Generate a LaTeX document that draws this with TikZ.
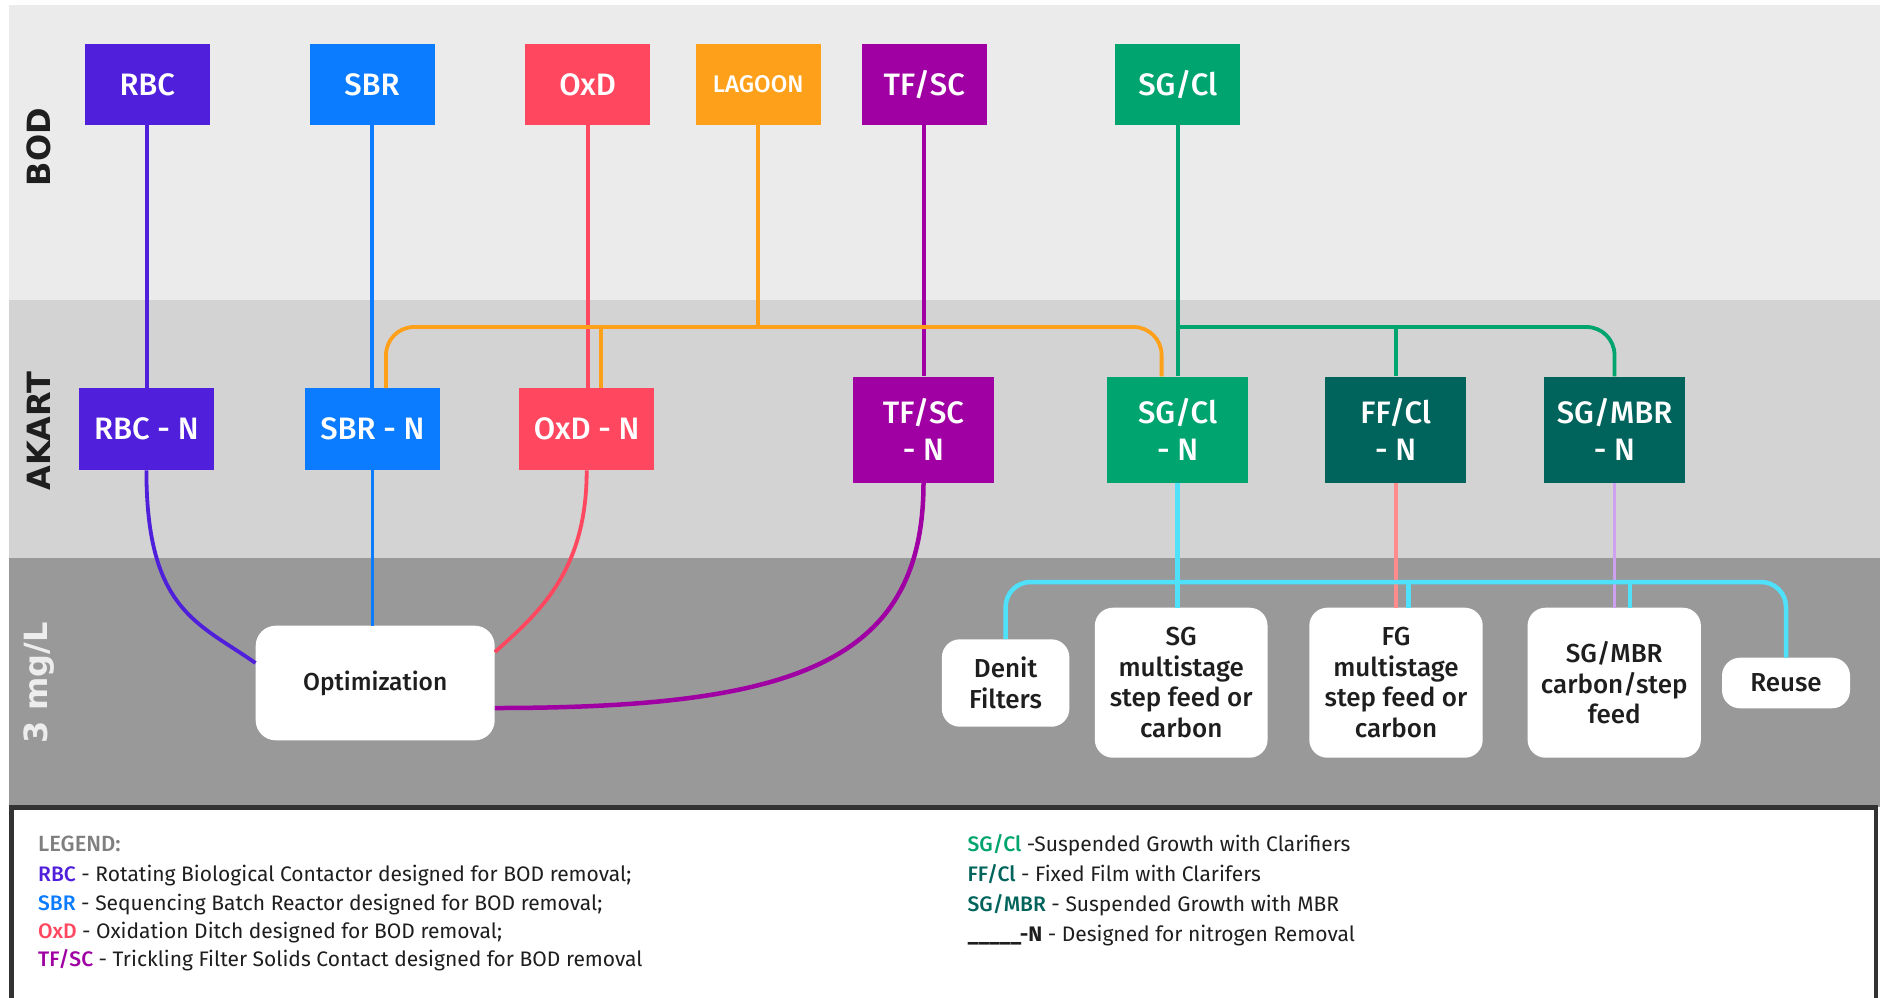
\documentclass[tikz,border=0pt]{standalone}
\usepackage{fontspec}
\setmainfont{Fira Sans}
\newfontfamily\medfont{Fira Sans}[UprightFont=* Medium, BoldFont=* Bold]
\newfontfamily\bandfont{DejaVu Sans}
\definecolor{cRBC}{HTML}{4F1FDB}
\definecolor{cSBR}{HTML}{0B7BFF}
\definecolor{cOxD}{HTML}{FF4760}
\definecolor{cLag}{HTML}{FFA01A}
\definecolor{cTF}{HTML}{A000A3}
\definecolor{cSG}{HTML}{00A46F}
\definecolor{cFF}{HTML}{00645C}
\definecolor{cCyan}{HTML}{4FE0FA}
\definecolor{cSalmon}{HTML}{FF8C8C}
\definecolor{cLav}{HTML}{CFA0F0}
\definecolor{bBOD}{HTML}{EBEBEB}
\definecolor{bAK}{HTML}{D3D3D3}
\definecolor{bMG}{HTML}{999999}
\definecolor{txtdark}{HTML}{1E1E1E}
\definecolor{legGray}{HTML}{7F7F7F}
\definecolor{legBorder}{HTML}{333333}
\tikzset{
  topbox/.style={draw=none, minimum width=125pt, minimum height=81pt, inner sep=0pt, text=white, align=center, font=\medfont\fontsize{31}{37}\selectfont},
  nbox/.style={draw=none, minimum width=135pt, minimum height=82pt, inner sep=0pt, text=white, align=center, font=\medfont\fontsize{31}{37}\selectfont},
  nbigbox/.style={draw=none, minimum width=141pt, minimum height=106pt, inner sep=0pt, text=white, align=center, font=\medfont\fontsize{31}{36.5}\selectfont},
  wbox/.style={fill=white, draw=none, rounded corners=18pt, inner sep=0pt, align=center, text=txtdark, font=\medfont\fontsize{26}{30.5}\selectfont},
  conn/.style={line width=3.8pt},
  cyanconn/.style={line width=4.5pt, cCyan},
  bandlabel/.style={rotate=90, inner sep=0pt, font=\bandfont\bfseries\fontsize{32}{36}\selectfont},
  legline/.style={anchor=base west, inner sep=0pt, text=txtdark, font=\fontsize{21}{28}\selectfont},
}
\begin{document}
\begin{tikzpicture}[x=1pt,y=-1pt]
\useasboundingbox (0,0) rectangle (1886,997);
% bands
\fill[bBOD] (9,5) rectangle (1880,300);
\fill[bAK] (9,300) rectangle (1880,558);
\fill[bMG] (9,558) rectangle (1880,807);
% legend box
\fill[white] (11.5,807.5) rectangle (1876,1000);
\draw[legBorder, line width=4.5pt] (11.5,1005) -- (11.5,807.5) -- (1876,807.5) -- (1876,1005);

% band labels
\node[bandlabel, text=txtdark] (bod) at (39,147) {BOD};
\node[bandlabel, text=txtdark] (akart) at (39,431) {AKART};
\node[bandlabel, text=white!93!black] (mgl) at (39,683) {3 mg/L};

% top row
\node[topbox, fill=cRBC] (rbc) at (147.3,84.7) {RBC};
\node[topbox, fill=cSBR] (sbr) at (372,84.7) {SBR};
\node[topbox, fill=cOxD] (oxd) at (587.6,84.7) {OxD};
\node[topbox, fill=cLag, font=\medfont\fontsize{24}{28}\selectfont] (lagoon) at (758.2,84.7) {LAGOON};
\node[topbox, fill=cTF] (tfsc) at (924.3,84.7) {TF/SC};
\node[topbox, fill=cSG] (sgcl) at (1177.8,84.7) {SG/Cl};

% AKART row
\node[nbox, fill=cRBC] (rbcn) at (146.4,429.2) {RBC - N};
\node[nbox, fill=cSBR] (sbrn) at (372.4,429.2) {SBR - N};
\node[nbox, fill=cOxD] (oxdn) at (586.7,429.2) {OxD - N};
\node[nbigbox, fill=cTF] (tfscn) at (923.5,429.5) {TF/SC\\- N};
\node[nbigbox, fill=cSG] (sgcln) at (1177.6,429.5) {SG/Cl\\- N};
\node[nbigbox, fill=cFF] (ffcln) at (1395.7,429.5) {FF/Cl\\- N};
\node[nbigbox, fill=cFF] (sgmbrn) at (1614.5,429.5) {SG/MBR\\- N};

% bottom row
\node[wbox, minimum width=239pt, minimum height=114.6pt, rounded corners=20pt, font=\medfont\fontsize{24.5}{28}\selectfont] (opt) at (375.2,683) {Optimization};
\node[wbox, minimum width=127.5pt, minimum height=87.4pt] (denit) at (1005.6,683) {Denit\\Filters};
\node[wbox, minimum width=172.7pt, minimum height=150pt] (sgm) at (1181.2,682.7) {SG\\multistage\\step feed or\\carbon};
\node[wbox, minimum width=173.4pt, minimum height=150pt] (fgm) at (1396,682.7) {FG\\multistage\\step feed or\\carbon};
\node[wbox, minimum width=173.3pt, minimum height=150pt] (sgmbrc) at (1614.2,682.7) {SG/MBR\\carbon/step\\feed};
\node[wbox, minimum width=128pt, minimum height=50.6pt] (reuse) at (1786,683) {Reuse};

% bus coordinates
\coordinate (obus) at (758,327);
\coordinate (oxbr) at (601,327);
\coordinate (gbus) at (1177,327);
\coordinate (cbus) at (1177,582);

% BOD -> AKART verticals
\draw[conn, cRBC] (rbc.south) -- (rbc.south |- rbcn.north);
\draw[conn, cSBR] (sbr.south) -- (sbr.south |- sbrn.north);
\draw[conn, cOxD] (oxd.south) -- (oxd.south |- oxdn.north);
\draw[conn, cTF] (tfsc.south) -- (tfsc.south |- tfscn.north);
% lagoon bus
\draw[conn, cLag] (lagoon.south) -- (lagoon.south |- obus);
\draw[conn, cLag] (oxbr) -- (oxbr |- oxdn.north);
\draw[conn, cLag, rounded corners=28pt] ([xshift=13.6pt]sbrn.north) |- (obus) -| ([xshift=-16pt]sgcln.north);
% SG/Cl bus
\draw[conn, cSG] (sgcl.south) -- (sgcl.south |- sgcln.north);
\draw[conn, cSG] (ffcln.north |- gbus) -- (ffcln.north);
\draw[conn, cSG, rounded corners=28pt] (gbus) -| (sgmbrn.north);

% AKART -> optimization
\draw[conn, cRBC] (rbcn.south) .. controls +(0,140) and +(-57,-40) .. ([yshift=20pt]opt.west);
\draw[conn, cSBR] (sbrn.south) -- (sbrn.south |- opt.north);
\draw[conn, cOxD] (oxdn.south) .. controls +(0,100) and +(45,-40) .. ([yshift=31pt]opt.east);
\draw[line width=4.5pt, cTF] (tfscn.south) .. controls +(0,180) and +(300,0) .. ([yshift=-25pt]opt.east);

% AKART -> 3 mg/L right part
\draw[conn, cSalmon] (ffcln.south) -- (ffcln.south |- fgm.north);
\draw[conn, cLav] (sgmbrn.south) -- (sgmbrn.south |- sgmbrc.north);
\draw[cyanconn] (sgcln.south) -- (sgcln.south |- sgm.north);
\draw[cyanconn, rounded corners=25pt] (denit.north) |- (cbus) -| (reuse.north);
\draw[cyanconn] ([xshift=12.7pt]fgm.north |- cbus) -- ([xshift=12.7pt]fgm.north);
\draw[cyanconn] ([xshift=15.8pt]sgmbrc.north |- cbus) -- ([xshift=15.8pt]sgmbrc.north);

% legend
\node[legline, text=legGray, font=\medfont\fontsize{22}{28}\selectfont] (leg0) at (38,851.7) {LEGEND:};
\node[legline] (leg1) at (38,881) {\textcolor{cRBC}{\medfont RBC} - Rotating Biological Contactor designed for BOD removal;};
\node[legline] (leg2) at (38,910) {\textcolor{cSBR}{\medfont SBR} - Sequencing Batch Reactor designed for BOD removal;};
\node[legline] (leg3) at (38,938.5) {\textcolor{cOxD}{\medfont OxD} - Oxidation Ditch designed for BOD removal;};
\node[legline] (leg4) at (38,966.7) {\textcolor{cTF}{\medfont TF/SC} - Trickling Filter Solids Contact designed for BOD removal};
\node[legline] (leg5) at (967.5,851.7) {\textcolor{cSG}{\medfont SG/Cl} -Suspended Growth with Clarifiers};
\node[legline] (leg6) at (967.5,881) {\textcolor{cFF}{\medfont FF/Cl} - Fixed Film with Clarifers};
\node[legline] (leg7) at (967.5,911) {\textcolor{cFF}{\medfont SG/MBR} - Suspended Growth with MBR};
\node[legline] (leg8) at (967.5,941.5) {\textbf{\_\_\_\_\_-N} - Designed for nitrogen Removal};
\end{tikzpicture}
\end{document}
